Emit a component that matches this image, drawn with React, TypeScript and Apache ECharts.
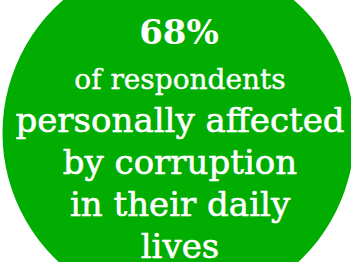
import React, { useEffect, useRef } from "react";
import * as echarts from "echarts";

const shareValue = [68];
const subtitleLines = ["of respondents"];
const bodyLines = ["personally affected", "by corruption", "in their daily", "lives"];

export default function App() {
  const ref = useRef<HTMLDivElement>(null);
  useEffect(() => {
    document.body.style.margin = "0";
    const chart = echarts.init(ref.current!, null, { renderer: "svg" });
    const cx = 179;
    const font = "DejaVu Serif";
    const white = "#ffffff";
    const texts: any[] = [];
    texts.push({
      type: "text",
      x: cx,
      y: 32,
      z: 100,
      style: {
        text: shareValue[0] + "%",
        fill: white,
        font: `bold 34px "${font}"`,
        align: "center",
        verticalAlign: "middle",
      },
    });
    subtitleLines.forEach((t, i) => {
      texts.push({
        type: "text",
        x: cx + 1,
        y: 79 + i * 40,
        z: 100,
        style: {
          text: t,
          fill: white,
          stroke: white,
          lineWidth: 0.4,
          font: `28px "${font}"`,
          align: "center",
          verticalAlign: "middle",
        },
      });
    });
    bodyLines.forEach((t, i) => {
      texts.push({
        type: "text",
        x: cx + 1,
        y: 120 + i * 42,
        z: 100,
        style: {
          text: t,
          fill: white,
          stroke: white,
          lineWidth: 0.6,
          font: `34px "${font}"`,
          align: "center",
          verticalAlign: "middle",
        },
      });
    });
    chart.setOption({
      animation: false,
      series: [
        {
          type: "pie",
          z: 1,
          center: [178.5, 133],
          radius: [0, 176],
          silent: true,
          label: { show: false },
          labelLine: { show: false },
          itemStyle: { color: "#00ad00" },
          data: [{ value: shareValue[0] }],
        },
      ],
      graphic: { elements: texts },
    });
    return () => chart.dispose();
  }, []);
  return <div ref={ref} style={{ position: "absolute", left: 0, top: 0, width: 351, height: 262 }} />;
}
